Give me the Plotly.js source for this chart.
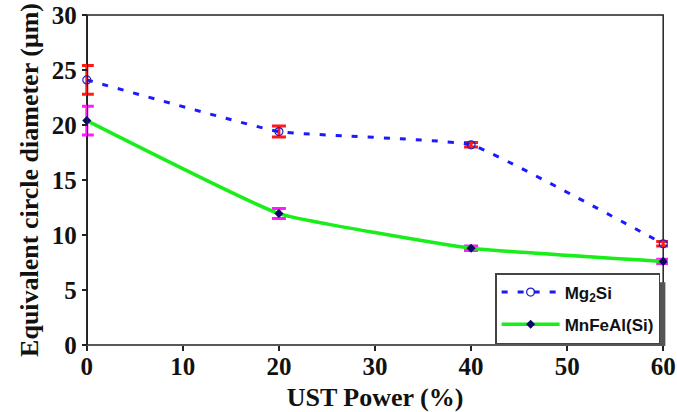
<!DOCTYPE html>
<html><head><meta charset="utf-8">
<script src="https://cdn.plot.ly/plotly-3.0.1.min.js"></script>
<style>html,body{margin:0;padding:0;background:#fff;}</style>
</head><body>
<div id="chart" style="width:677px;height:412px;"></div>
<script>
const ustPower = [0, 20, 40, 60];
const mg2siValues = [24.1, 19.4, 18.2, 9.2];
const mg2siErrors = [1.3, 0.5, 0.2, 0.2];
const mnfealValues = [20.4, 11.95, 8.8, 7.6];
const mnfealErrors = [1.3, 0.45, 0.2, 0.2];
const xTicks = [0, 10, 20, 30, 40, 50, 60];
const yTicks = [0, 5, 10, 15, 20, 25, 30];
const xMin = 0, xMax = 60;

const traces = [
  {
    x: ustPower, y: mg2siValues, name: 'Mg<sub>2</sub>Si', mode: 'lines+markers', legendgroup: 'a',
    line: {color: '#1a1aff', width: 3, dash: '6px,10px', shape: 'spline', smoothing: 0.3},
    marker: {symbol: 'circle-open', size: 8, color: '#2020c0', line: {width: 1.2}},
    error_y: {type: 'data', array: mg2siErrors, visible: true, color: '#ff1a1a', thickness: 3, width: 7},
    cliponaxis: false
  },
  {
    x: ustPower, y: mnfealValues, name: 'MnFeAl(Si)', mode: 'lines+markers', legendgroup: 'b',
    line: {color: '#1aee1a', width: 3.5, shape: 'spline', smoothing: 0.35},
    marker: {symbol: 'diamond', size: 7, color: '#0a0a60'},
    error_y: {type: 'data', array: mnfealErrors, visible: true, color: '#ff1aff', thickness: 3, width: 7},
    cliponaxis: false
  }
];

const serif = '"Liberation Serif", "Times New Roman", serif';
const tickFont = {family: serif, size: 25, color: '#111', weight: 'bold'};
const titleFont = {family: serif, size: 26, color: '#111', weight: 'bold'};
const layout = {
  width: 677, height: 412,
  margin: {l: 82, r: 9, t: 15, b: 67},
  paper_bgcolor: '#fff', plot_bgcolor: '#fff',
  showlegend: true,
  legend: {
    x: 0.705, xanchor: 'left', y: 0.218, yanchor: 'top',
    bgcolor: '#fff', bordercolor: '#444', borderwidth: 1.5,
    font: {family: '"Liberation Sans", Arial, sans-serif', size: 17, color: '#111', weight: 'bold'},
    itemwidth: 58, tracegroupgap: 7, traceorder: 'grouped'
  },
  shapes: [
    {type: 'rect', xref: 'x', yref: 'paper', x0: xMin, x1: xMax, y0: 0, y1: 1,
     line: {color: '#222', width: 1.5}, fillcolor: 'rgba(0,0,0,0)', layer: 'below'},
    {type: 'rect', xref: 'paper', yref: 'paper', x0: 0.75, x1: 0.9955, y0: -0.003, y1: 0.19,
     fillcolor: '#555', line: {width: 0}, layer: 'above'}
  ],
  xaxis: {
    range: [xMin - 0.5, xMax + 0.5], tickvals: xTicks, ticks: 'outside', ticklen: 5, tickwidth: 1.5,
    tickcolor: '#222', ticklabelstandoff: -6,
    showline: false, showgrid: false, zeroline: false,
    tickfont: tickFont,
    title: {text: 'UST Power (%)', font: titleFont, standoff: 8}
  },
  yaxis: {
    range: [0, 30], tickvals: yTicks, ticks: 'outside', ticklen: 5, tickwidth: 1.5, tickcolor: '#222',
    anchor: 'free', position: 0.5 / 61,
    showline: true, linecolor: '#222', linewidth: 1.5, showgrid: false, zeroline: false,
    tickfont: tickFont,
    title: {text: 'Equivalent circle diameter (μm)', font: titleFont, standoff: 4}
  }
};
Plotly.newPlot('chart', traces, layout, {displayModeBar: false, staticPlot: true});
</script>
</body></html>
